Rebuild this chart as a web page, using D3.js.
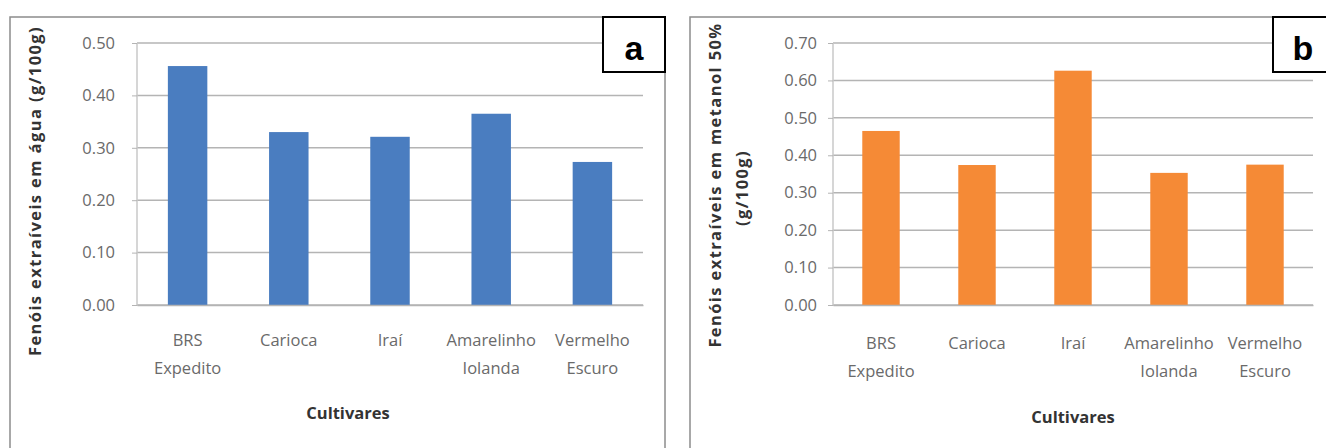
<!DOCTYPE html>
<html><head><meta charset="utf-8">
<script src="https://cdn.jsdelivr.net/npm/d3@7"></script>
<style>body{margin:0;background:#fff;} svg{display:block;}</style>
</head><body>
<svg id="c" width="1326" height="448"></svg>
<script>
const categories = [["BRS","Expedito"],["Carioca"],["Iraí"],["Amarelinho","Iolanda"],["Vermelho","Escuro"]];
const valuesA = [0.456, 0.330, 0.321, 0.365, 0.273];
const valuesB = [0.465, 0.374, 0.626, 0.353, 0.375];
const ticksA = [0, 0.1, 0.2, 0.3, 0.4, 0.5];
const ticksB = [0, 0.1, 0.2, 0.3, 0.4, 0.5, 0.6, 0.7];
const titleA = ["Fenóis extraíveis em água (g/100g)"];
const titleB = ["Fenóis extraíveis em metanol 50%", "(g/100g)"];
const xTitle = "Cultivares";

const svg = d3.select("#c");
const font = "'Open Sans', 'Liberation Sans', sans-serif";
const fs = 16.5;

function panel(cfg){
  const g = svg.append("g");
  g.append("rect").attr("x",cfg.fx).attr("y",17).attr("width",cfg.fw).attr("height",440)
    .attr("fill","#fff").attr("stroke","#8c8c8c").attr("stroke-width",1.5);
  const x = d3.scaleBand().domain(categories.map((d,i)=>i)).range([cfg.x0,cfg.x1]).paddingInner(0.61).paddingOuter(0.305);
  const y = d3.scaleLinear().domain([0,cfg.max]).range([305,43]);
  g.append("g").selectAll("line").data(cfg.ticks).join("line")
    .attr("x1",cfg.x0).attr("x2",cfg.x1).attr("y1",d=>y(d)).attr("y2",d=>y(d))
    .attr("stroke","#b4b4b4").attr("stroke-width",1.5);
  g.append("line").attr("x1",cfg.x0).attr("x2",cfg.x0).attr("y1",43).attr("y2",305)
    .attr("stroke","#c8c8c8").attr("stroke-width",1.5);
  const ya = d3.axisLeft(y).tickValues(cfg.ticks).tickFormat(d3.format(".2f")).tickSize(5).tickPadding(cfg.tp);
  const yg = g.append("g").attr("transform",`translate(${cfg.x0},0)`).call(ya);
  yg.select(".domain").remove();
  yg.selectAll("line").attr("stroke","#b4b4b4");
  yg.selectAll("text").attr("font-family",font).attr("font-size",fs).attr("fill","#6a6a6a");
  g.append("g").selectAll("rect").data(cfg.values).join("rect")
    .attr("x",(d,i)=>x(i)).attr("width",x.bandwidth())
    .attr("y",d=>y(d)).attr("height",d=>y(0)-y(d)).attr("fill",cfg.color);
  const xa = d3.axisBottom(x).tickSize(0).tickFormat("");
  const xg = g.append("g").attr("transform","translate(0,305)").call(xa);
  xg.select(".domain").attr("stroke","#b4b4b4").attr("stroke-width",1.5);
  const cl = g.append("g").selectAll("text").data(categories).join("text")
    .attr("x",(d,i)=>x(i)+x.bandwidth()/2).attr("y",cfg.ly)
    .attr("text-anchor","middle").attr("font-family",font).attr("font-size",fs).attr("fill","#6a6a6a");
  cl.selectAll("tspan").data(d=>d).join("tspan")
    .attr("x",function(){return this.parentNode.getAttribute("x");})
    .attr("dy",(d,i)=>i===0?0:28).text(d=>d);
  g.append("text").attr("x",cfg.xtx).attr("y",cfg.xty).attr("text-anchor","middle")
    .attr("font-family",font).attr("font-size",fs).attr("font-weight","bold").attr("fill","#333").text(xTitle);
  cfg.ytitle.forEach((t,i)=>{
    g.append("text").attr("transform",`translate(${cfg.ytx[i]},${cfg.yty[i]}) rotate(-90)`)
      .attr("text-anchor","middle").attr("font-family",font).attr("font-size",fs)
      .attr("letter-spacing",1.4)
      .attr("font-weight","bold").attr("fill","#333").text(t);
  });
  g.append("rect").attr("x",cfg.bx).attr("y",17).attr("width",cfg.bw).attr("height",55)
    .attr("fill","#fff").attr("stroke","#000").attr("stroke-width",2);
  g.append("text").attr("x",cfg.bx+cfg.bw/2).attr("y",60).attr("text-anchor","middle")
    .attr("font-family","'Liberation Sans', Arial, sans-serif").attr("font-size",34).attr("font-weight","bold")
    .attr("fill","#000").text(cfg.letter);
}

panel({fx:10, fw:655, x0:137, x1:643, max:0.5, ticks:ticksA, values:valuesA, color:"#4a7dc0", tp:17,
  ly:346, xtx:348, xty:419, ytitle:titleA, ytx:[41], yty:[191], bx:603, bw:62, letter:"a"});
panel({fx:690, fw:650, x0:833, x1:1313, max:0.7, ticks:ticksB, values:valuesB, color:"#f58a36", tp:11,
  ly:349, xtx:1073, xty:423, ytitle:titleB, ytx:[721,748], yty:[185,188], bx:1273, bw:60, letter:"b"});
</script>
</body></html>
